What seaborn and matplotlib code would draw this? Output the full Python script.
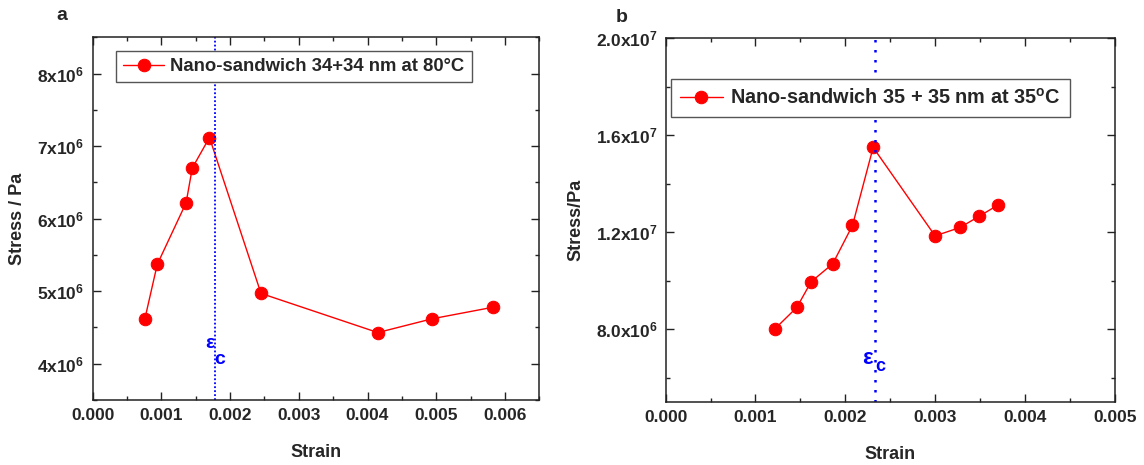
import matplotlib
matplotlib.use("Agg")
import matplotlib.pyplot as plt
import seaborn as sns
from matplotlib.ticker import MultipleLocator, FormatStrFormatter

# panel a: 34+34 nm at 80 C
strain_a = [0.00076, 0.00094, 0.00136, 0.00145, 0.00170, 0.00245, 0.00415, 0.00494, 0.00583]
stress_a = [4.62e6, 5.37e6, 6.22e6, 6.70e6, 7.12e6, 4.97e6, 4.43e6, 4.62e6, 4.78e6]
eps_c_a = 0.00178
yticks_a = [4e6, 5e6, 6e6, 7e6, 8e6]
ylabels_a = ['4x10$^{6}$', '5x10$^{6}$', '6x10$^{6}$', '7x10$^{6}$', '8x10$^{6}$']

# panel b: 35+35 nm at 35 C
strain_b = [0.00122, 0.00146, 0.00162, 0.00186, 0.00208, 0.00231, 0.00300, 0.00328, 0.00349, 0.00370]
stress_b = [8.03e6, 8.90e6, 9.96e6, 10.7e6, 12.28e6, 15.5e6, 11.85e6, 12.2e6, 12.66e6, 13.12e6]
eps_c_b = 0.00233
yticks_b = [8e6, 1.2e7, 1.6e7, 2.0e7]
ylabels_b = ['8.0x10$^{6}$', '1.2x10$^{7}$', '1.6x10$^{7}$', '2.0x10$^{7}$']

sns.set_style('ticks')
plt.rcParams['font.family'] = ['Liberation Sans', 'DejaVu Sans']
plt.rcParams['font.weight'] = 'bold'
plt.rcParams['axes.labelweight'] = 'bold'
plt.rcParams['mathtext.fontset'] = 'custom'
plt.rcParams['mathtext.rm'] = 'Liberation Sans:bold'
plt.rcParams['mathtext.it'] = 'Liberation Sans:bold'
plt.rcParams['mathtext.bf'] = 'Liberation Sans:bold'
plt.rcParams['mathtext.default'] = 'regular'

fig = plt.figure(figsize=(11.44, 4.65), dpi=100)
ax1 = fig.add_axes([0.081, 0.1398, 0.3904, 0.7796])
ax2 = fig.add_axes([0.5819, 0.1355, 0.3925, 0.7822])


def style_axes(ax):
    for s in ax.spines.values():
        s.set_color('#222222')
        s.set_linewidth(1.1)
    ax.tick_params(which='both', direction='in', top=True, right=True,
                   color='#222222', labelsize=12.5, width=1.0)
    ax.tick_params(which='major', length=5.5, pad=6)
    ax.tick_params(which='minor', length=3)
    for lab in ax.get_xticklabels() + ax.get_yticklabels():
        lab.set_fontweight('bold')


# panel a
sns.lineplot(x=strain_a, y=stress_a, sort=False, ax=ax1, color='red', marker='o',
             markersize=9, markeredgecolor='red', linewidth=1,
             label='Nano-sandwich 34+34 nm at 80°C')
ax1.axvline(eps_c_a, color='blue', linestyle=(0, (1, 1.2)), linewidth=1.3)
ax1.set_xlim(0, 0.0065)
ax1.set_ylim(3.5e6, 8.5e6)
ax1.xaxis.set_major_locator(MultipleLocator(0.001))
ax1.xaxis.set_minor_locator(MultipleLocator(0.0005))
ax1.xaxis.set_major_formatter(FormatStrFormatter('%.3f'))
ax1.set_yticks(yticks_a)
ax1.set_yticklabels(ylabels_a)
ax1.yaxis.set_minor_locator(MultipleLocator(0.5e6))
ax1.set_xlabel('Strain', fontsize=13, labelpad=15)
ax1.set_ylabel('Stress / Pa', fontsize=13, labelpad=8)
ax1.text(eps_c_a - 0.00008, 4.28e6, 'ε', color='blue', fontsize=14,
         ha='center', va='center', fontweight='bold')
ax1.text(eps_c_a + 0.00007, 4.06e6, 'c', color='blue', fontsize=14,
         ha='center', va='center', fontweight='bold')
style_axes(ax1)
leg1 = ax1.legend(loc='upper left', bbox_to_anchor=(0.053, 0.962), borderaxespad=0,
                  fancybox=False, edgecolor='#555555', framealpha=1,
                  prop={'size': 13.3, 'weight': 'bold'}, handlelength=2.2,
                  handletextpad=0.35, borderpad=0.38)
leg1.get_frame().set_linewidth(1.0)

# panel b
sns.lineplot(x=strain_b, y=stress_b, sort=False, ax=ax2, color='red', marker='o',
             markersize=9, markeredgecolor='red', linewidth=1,
             label='Nano-sandwich 35 + 35 nm at 35$^{o}$C')
ax2.axvline(eps_c_b, color='blue', linestyle=(0, (1, 3)), linewidth=1.8)
ax2.set_xlim(0, 0.005)
ax2.set_ylim(5e6, 2.0e7)
ax2.xaxis.set_major_locator(MultipleLocator(0.001))
ax2.xaxis.set_minor_locator(MultipleLocator(0.0005))
ax2.xaxis.set_major_formatter(FormatStrFormatter('%.3f'))
ax2.set_yticks(yticks_b)
ax2.set_yticklabels(ylabels_b)
ax2.yaxis.set_minor_locator(MultipleLocator(2e6))
ax2.set_xlabel('Strain', fontsize=13, labelpad=15)
ax2.set_ylabel('Stress/Pa', fontsize=13, labelpad=8)
ax2.text(eps_c_b - 0.00008, 6.8e6, 'ε', color='blue', fontsize=16,
         ha='center', va='center', fontweight='bold')
ax2.text(eps_c_b + 0.00006, 6.45e6, 'c', color='blue', fontsize=13,
         ha='center', va='center', fontweight='bold')
style_axes(ax2)
leg2 = ax2.legend(loc='upper left', bbox_to_anchor=(0.011, 0.889), borderaxespad=0,
                  fancybox=False, edgecolor='#555555', framealpha=1,
                  prop={'size': 14.3, 'weight': 'bold'}, handlelength=2.2,
                  handletextpad=0.35, borderpad=0.45)
leg2.get_frame().set_linewidth(1.0)

fig.text(61.7 / 1144, 1 - 15 / 465, 'a', fontsize=14, fontweight='bold',
         ha='center', va='center')
fig.text(621.7 / 1144, 1 - 18 / 465, 'b', fontsize=14, fontweight='bold',
         ha='center', va='center')

fig.savefig('out.png', dpi=100)
